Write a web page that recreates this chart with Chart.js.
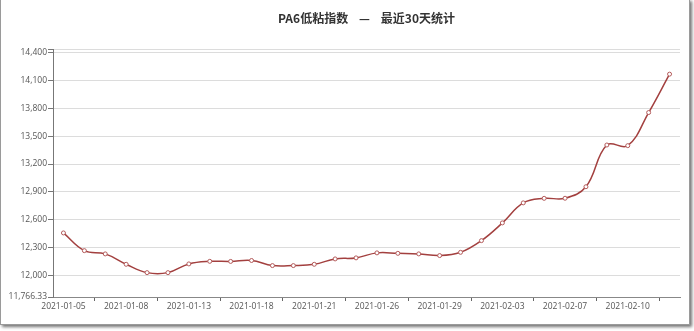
<!DOCTYPE html>
<html>
<head>
<meta charset="utf-8">
<script src="https://cdn.jsdelivr.net/npm/chart.js@4/dist/chart.umd.min.js"></script>
<style>
  html, body { margin: 0; padding: 0; background: #fff; }
  body { width: 694px; height: 331px; position: relative; overflow: hidden; }
  #frame { position: absolute; left: 0px; top: -1px; width: 688px; height: 324px;
           border: 1px solid #9a9a9a; box-shadow: 2px 2px 3px rgba(0,0,0,0.55); background: #fff; }
  #wrap { position: absolute; left: 0; top: 0; width: 694px; height: 331px; }
</style>
</head>
<body>
<div id="frame"></div>
<div id="wrap"><canvas id="c" width="694" height="331"></canvas></div>
<script>
const titleText = 'PA6低粘指数    —    最近30天统计';
const categories = [
  '2021-01-05','2021-01-06','2021-01-07','2021-01-08','2021-01-11','2021-01-12','2021-01-13',
  '2021-01-14','2021-01-15','2021-01-18','2021-01-19','2021-01-20','2021-01-21','2021-01-22',
  '2021-01-25','2021-01-26','2021-01-27','2021-01-28','2021-01-29','2021-02-01','2021-02-02',
  '2021-02-03','2021-02-04','2021-02-05','2021-02-07','2021-02-08','2021-02-09','2021-02-10',
  '2021-02-18','2021-02-19'
];
const indexValues = [
  12457, 12266, 12231, 12119, 12029, 12029, 12123, 12151, 12150, 12160,
  12105, 12105, 12119, 12177, 12188, 12242, 12237, 12231, 12213, 12248,
  12374, 12565, 12781, 12830, 12831, 12955, 13405, 13398, 13755, 14169
];
const yTicks = [11766.33, 12000, 12300, 12600, 12900, 13200, 13500, 13800, 14100, 14400];
const yMin = 11766.33;
const yMax = 14440;

const fmt = v => v.toLocaleString('en-US', { maximumFractionDigits: 2 });
const FONT = '"Open Sans", "Noto Sans", sans-serif';

new Chart(document.getElementById('c'), {
  type: 'line',
  data: {
    labels: categories,
    datasets: [{
      data: indexValues,
      borderColor: '#a3403f',
      borderWidth: 1.5,
      tension: 0.4,
      pointRadius: 2,
      pointBorderWidth: 1,
      pointBackgroundColor: '#ffffff',
      pointBorderColor: '#b35a5a',
      fill: false
    }]
  },
  options: {
    responsive: false,
    animation: false,
    devicePixelRatio: 1,
    layout: { padding: { left: 0, right: 14, top: 0, bottom: 0 } },
    plugins: {
      legend: { display: false },
      tooltip: { enabled: false },
      title: {
        display: true,
        text: titleText,
        fullSize: false,
        color: '#333333',
        font: { family: '"Noto Sans CJK SC", sans-serif', size: 12, weight: 'bold' },
        padding: { top: 11, bottom: 23.6 }
      }
    },
    scales: {
      x: {
        type: 'category',
        offset: true,
        afterFit: s => { s.height = 34; },
        grid: {
          offset: true,
          drawOnChartArea: false,
          drawTicks: true,
          tickLength: 4,
          color: ctx => (ctx.index % 3 === 2 ? '#666666' : 'rgba(0,0,0,0)')
        },
        border: { display: true, color: '#888888', width: 1 },
        ticks: {
          autoSkip: false,
          maxRotation: 0,
          padding: 0,
          color: '#555555',
          font: { family: FONT, size: 8.5 },
          callback: function (val, i) { return i % 3 === 0 ? this.getLabelForValue(val) : ''; }
        }
      },
      y: {
        min: yMin,
        max: yMax,
        afterFit: s => { s.width = 53; },
        afterBuildTicks: s => {
          s.ticks = yTicks.concat([yMax]).map(v => ({ value: v }));
        },
        grid: {
          color: '#dcdcdc',
          lineWidth: 1,
          drawTicks: true,
          tickLength: 5,
          tickColor: '#777777'
        },
        border: { display: true, color: '#777777', width: 1 },
        ticks: {
          padding: 1,
          color: '#555555',
          font: { family: FONT, size: 8.5 },
          callback: v => (v === yMax ? '' : fmt(v))
        }
      }
    }
  }
});
</script>
</body>
</html>
